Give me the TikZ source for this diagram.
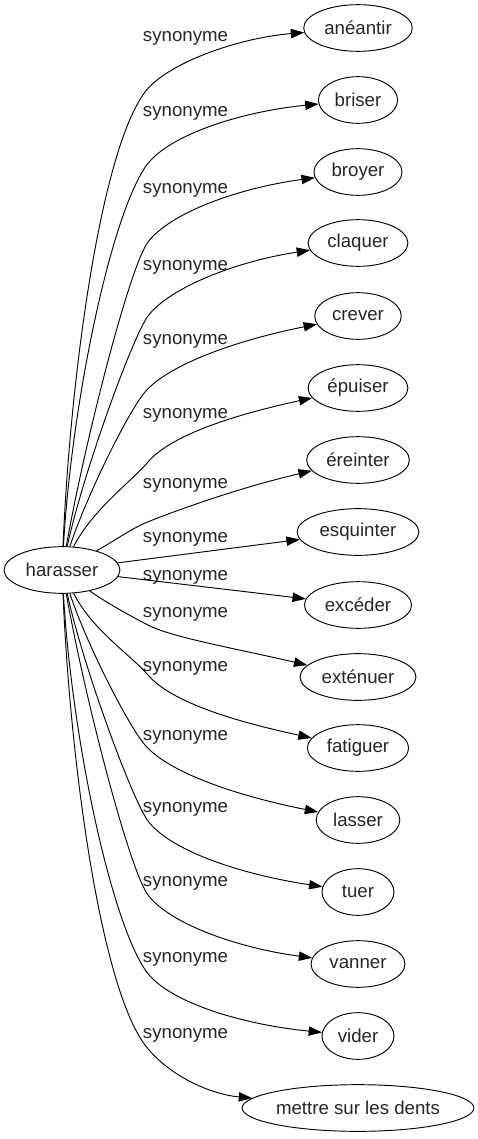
\documentclass[tikz,border=0pt]{standalone}
\usepackage{fontspec}
\setmainfont{Liberation Sans}
\usetikzlibrary{arrows.meta,shapes.geometric}
\begin{document}
\begin{tikzpicture}[x=0.75pt,y=-0.75pt,
  every node/.style={font=\fontsize{14}{17}\selectfont,text=black!85},
  word/.style={draw,ellipse,line width=0.7pt,inner xsep=3.5pt,inner ysep=0pt,minimum width=54pt,minimum height=35pt},
  rel/.style={inner sep=0pt},
  syn/.style={-{Triangle[length=10pt,width=7pt]},line width=0.7pt}]
\useasboundingbox (0,0) rectangle (478,1139);
\node[word] (h) at (62,570) {harasser};
\foreach \n/\w/\y in {aneantir/anéantir/28,briser/briser/100,broyer/broyer/172,claquer/claquer/243,
  crever/crever/316,epuiser/épuiser/388,ereinter/éreinter/460,esquinter/esquinter/532,
  exceder/excéder/605,extenuer/exténuer/677,fatiguer/fatiguer/748,lasser/lasser/820,
  tuer/tuer/892,vanner/vanner/964,vider/vider/1036}
  \node[word] (\n) at (358,\y) {\w};
\node[word,inner xsep=0pt] (dents) at (358,1108) {mettre sur les dents};
\foreach \y [count=\i] in {38,113,190,267,341,415,485,539,577,614,668,737,809,883,959,1035}
  \node[rel] (syn\i) at (185.5,\y) {synonyme};
\foreach \n/\ax/\ay/\bx/\by/\cx/\cy/\dx/\dy/\ex/\ey in {
  aneantir/8/-190/145/92/-45/60/22/-29/-120/10,
  briser/10/-170/146/166/-35/50/21/-30/-120/12,
  broyer/24/-134/148/242/-18/24/22/-29/-120/16,
  claquer/22/-100/148/316/-15/20/22/-29/-120/18,
  crever/25/-75/145/392/-17/20/24/-28/-120/24,
  epuiser/30/-60/148/462/-16/19/24/-28/-120/26,
  ereinter/54/-30/150/521/-18/7/25/-10/-120/28,
  extenuer/40/30/150/626/-20/-10/25/12/-120/-28,
  fatiguer/30/60/148/675/-16/-19/24/28/-120/-26,
  lasser/25/75/145/745/-17/-20/24/28/-120/-24,
  tuer/22/100/148/821/-15/-20/22/29/-120/-18,
  vanner/24/134/148/895/-18/-24/22/29/-120/-16,
  vider/10/170/146/971/-35/-50/21/30/-120/-12,
  dents/8/190/145/1045/-45/-60/22/29/-150/-14}
  \draw[syn] (h) .. controls +(\ax,\ay) and +(\cx,\cy) .. (\bx,\by) .. controls +(\dx,\dy) and +(\ex,\ey) .. (\n);
\draw[syn] (h) -- (esquinter);
\draw[syn] (h) -- (exceder);
\end{tikzpicture}
\end{document}
